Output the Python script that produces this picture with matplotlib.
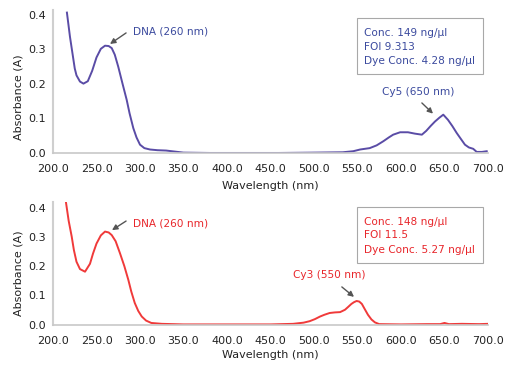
import matplotlib
matplotlib.use("Agg")
import matplotlib.pyplot as plt
from matplotlib.patches import Rectangle
from matplotlib.ticker import FormatStrFormatter

# --- data ---
cy5_wl = [216, 219.5, 225, 227, 231, 235, 240, 245, 250, 255, 259.8, 264, 267.5, 271, 275, 280, 284.7,
          288, 292.3, 296, 300, 305, 311.5, 320, 330, 340, 350, 380, 420, 460, 500, 533, 545, 553, 564,
          572, 579.7, 586, 591, 599, 608, 616, 624, 629, 634, 639, 644, 648.6, 654, 659, 664, 669,
          673.5, 678, 683, 687, 693, 698.5]
cy5_abs = [0.407, 0.337, 0.245, 0.225, 0.207, 0.201, 0.208, 0.238, 0.277, 0.302, 0.311, 0.310, 0.304,
           0.285, 0.250, 0.200, 0.154, 0.115, 0.072, 0.045, 0.024, 0.014, 0.010, 0.008, 0.007, 0.004,
           0.001, 0.000, 0.000, 0.000, 0.001, 0.002, 0.005, 0.010, 0.014, 0.022, 0.034, 0.045, 0.053,
           0.060, 0.060, 0.056, 0.053, 0.064, 0.078, 0.091, 0.102, 0.111, 0.096, 0.078, 0.058, 0.040,
           0.024, 0.016, 0.012, 0.003, 0.003, 0.005]

cy3_wl = [215, 218, 221.5, 224, 227, 231, 236.8, 242.5, 246, 250, 255, 259.8, 264, 267.5, 272, 277,
          282, 286.6, 290, 294, 298, 302, 307, 313, 325, 350, 400, 450, 476, 488, 495, 501, 507, 512,
          518, 524, 530, 535.6, 539, 543, 546, 549, 552, 555, 558, 562, 566, 570, 575, 600, 630, 645,
          650, 655, 670, 690, 700]
cy3_abs = [0.416, 0.355, 0.301, 0.255, 0.215, 0.190, 0.181, 0.208, 0.243, 0.277, 0.305, 0.318, 0.315,
           0.306, 0.285, 0.244, 0.200, 0.153, 0.113, 0.074, 0.047, 0.028, 0.014, 0.006, 0.003, 0.001,
           0.001, 0.001, 0.003, 0.007, 0.012, 0.019, 0.028, 0.034, 0.040, 0.042, 0.043, 0.051, 0.060,
           0.071, 0.077, 0.081, 0.079, 0.071, 0.055, 0.034, 0.018, 0.008, 0.002, 0.001, 0.002, 0.002,
           0.006, 0.002, 0.003, 0.002, 0.003]

x_ticks = [200, 250, 300, 350, 400, 450, 500, 550, 600, 650, 700]
y_ticks = [0.0, 0.1, 0.2, 0.3, 0.4]

top_info = ["Conc. 149 ng/\u00b5l", "FOI 9.313", "Dye Conc. 4.28 ng/\u00b5l"]
bot_info = ["Conc. 148 ng/\u00b5l", "FOI 11.5", "Dye Conc. 5.27 ng/\u00b5l"]

blue_line = "#5a4ca6"
blue_text = "#3b4a9e"
red_line = "#f03a3a"
red_text = "#e8262b"
W, H = 531, 367
ANN_FS = 7.6

fig = plt.figure(figsize=(5.31, 3.67), dpi=100)


def px_axes(left, top, right, bottom):
    return fig.add_axes([left / W, 1 - bottom / H, (right - left) / W, (bottom - top) / H])


def style_axes(ax, ylim, lab_y):
    ax.set_xlim(200, 700)
    ax.set_ylim(*ylim)
    ax.set_xticks(x_ticks)
    ax.set_yticks(y_ticks)
    ax.xaxis.set_major_formatter(FormatStrFormatter("%.1f"))
    ax.yaxis.set_major_formatter(FormatStrFormatter("%.1f"))
    ax.tick_params(length=0, labelsize=8, labelcolor="#222222")
    ax.tick_params(axis="x", pad=8)
    ax.tick_params(axis="y", pad=5)
    for s in ["top", "right"]:
        ax.spines[s].set_visible(False)
    ax.spines["left"].set_color("#cfcfcf")
    ax.spines["left"].set_linewidth(1.5)
    ax.spines["bottom"].set_color("#c8c8c8")
    ax.spines["bottom"].set_linewidth(1.2)
    ax.set_xlabel("Wavelength (nm)", fontsize=8, color="#222222")
    ax.set_ylabel("Absorbance (A)", fontsize=8, color="#222222")
    ax.yaxis.set_label_coords(-0.068, lab_y)


def info_box(left, top, right, bottom, lines, color, line_y):
    fig.patches.append(Rectangle((left / W, 1 - bottom / H), (right - left) / W, (bottom - top) / H,
                                 transform=fig.transFigure, fill=False, ec="#a8a8a8", lw=0.8))
    for txt, y in zip(lines, line_y):
        fig.text((left + 7) / W, 1 - y / H, txt, color=color, fontsize=ANN_FS, va="center", ha="left")


arrow = dict(arrowstyle="-|>", color="#555555", lw=1.0, mutation_scale=8, shrinkA=0, shrinkB=0)

# top panel (Cy5)
ax1 = px_axes(53, 10, 488, 153.3)
ax1.plot(cy5_wl, cy5_abs, color=blue_line, lw=1.4)
style_axes(ax1, (-0.001, 0.4145), 0.39)
ax1.xaxis.set_label_coords(0.5, -0.19)
ax1.text(292, 0.351, "DNA (260 nm)", color=blue_text, fontsize=ANN_FS, va="center")
ax1.annotate("", xy=(265.5, 0.316), xytext=(284, 0.348), arrowprops=arrow)
ax1.text(578, 0.177, "Cy5 (650 nm)", color=blue_text, fontsize=ANN_FS, va="center")
ax1.annotate("", xy=(636.8, 0.114), xytext=(624, 0.145), arrowprops=arrow)
info_box(357, 18, 483, 74, top_info, blue_text, [33, 47, 61])

# bottom panel (Cy3)
ax2 = px_axes(53, 202, 488, 325)
ax2.plot(cy3_wl, cy3_abs, color=red_line, lw=1.4)
style_axes(ax2, (-0.001, 0.419), 0.42)
ax2.xaxis.set_label_coords(0.5, -0.2)
ax2.text(292, 0.347, "DNA (260 nm)", color=red_text, fontsize=ANN_FS, va="center")
ax2.annotate("", xy=(267.8, 0.323), xytext=(284, 0.354), arrowprops=arrow)
ax2.text(476, 0.170, "Cy3 (550 nm)", color=red_text, fontsize=ANN_FS, va="center")
ax2.annotate("", xy=(546, 0.095), xytext=(532, 0.129), arrowprops=arrow)
info_box(357, 207, 483, 263, bot_info, red_text, [222, 235, 250])

fig.savefig("out.png", dpi=100)
